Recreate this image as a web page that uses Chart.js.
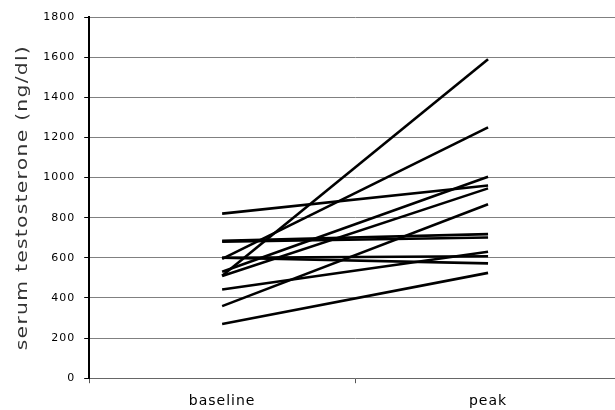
<!DOCTYPE html>
<html lang="en">
<head>
  <meta charset="UTF-8">
  <title>Serum testosterone: baseline vs peak</title>
  <script src="https://cdn.jsdelivr.net/npm/chart.js@4.4.1/dist/chart.umd.min.js"></script>
  <style>
    * { margin: 0; padding: 0; box-sizing: border-box; }
    html, body { width: 615px; height: 410px; overflow: hidden; background: #fff; }
    .chart-box { position: relative; width: 621px; height: 410px; }
  </style>
</head>
<body>
  <div class="chart-box">
    <canvas id="testoChart"></canvas>
  </div>

  <script>
    // categories on the x axis
    const timepoints = ['baseline', 'peak'];

    // one subject per index: value at baseline and at peak (ng/dl)
    const baselineValues = [820, 685, 680, 595, 510, 600, 600, 530, 509, 442, 359, 270];
    const peakValues     = [960, 718, 701, 1250, 1590, 572, 608, 1004, 946, 630, 867, 525];

    // y axis ticks
    const yTicks = [0, 200, 400, 600, 800, 1000, 1200, 1400, 1600, 1800];

    const datasets = baselineValues.map((b, i) => ({
      label: 'subject ' + (i + 1),
      data: [b, peakValues[i]],
      borderColor: '#000',
      borderWidth: 2.6,
      pointRadius: 0,
      tension: 0,
      fill: false
    }));

    // the original lettering is drawn wide: space the ticks a little and
    // stretch the rotated y title along its length
    const spacingPlugin = {
      id: 'spacing',
      beforeDraw(chart) {
        chart.ctx.letterSpacing = '1px';
        const y = chart.scales.y;
        if (y && !y._stretched) {
          const orig = y.drawTitle;
          y.drawTitle = function () {
            const c = this.ctx;
            const cy = (this.top + this.bottom) / 2;
            c.save();
            c.letterSpacing = '1px';
            c.translate(0, cy);
            c.scale(1, 1.27);
            c.translate(0, -cy);
            orig.apply(this, arguments);
            c.restore();
          };
          y._stretched = true;
        }
      }
    };

    new Chart(document.getElementById('testoChart'), {
      type: 'line',
      data: { labels: timepoints, datasets: datasets },
      plugins: [spacingPlugin],
      options: {
        responsive: true,
        maintainAspectRatio: false,
        animation: false,
        layout: { padding: { top: 17, left: 0, right: 0, bottom: -10 } },
        plugins: { legend: { display: false }, tooltip: { enabled: false } },
        scales: {
          x: {
            offset: true,
            grid: {
              offset: true,
              drawOnChartArea: false,
              drawTicks: true,
              tickLength: 5,
              tickColor: '#555'
            },
            border: { color: '#666', width: 1 },
            ticks: {
              color: '#000',
              padding: 10,
              font: { family: 'DejaVu Sans', size: 14 }
            }
          },
          y: {
            min: 0,
            max: 1800,
            afterBuildTicks: axis => { axis.ticks = yTicks.map(v => ({ value: v })); },
            grid: {
              color: '#808080',
              lineWidth: 1,
              tickLength: 5,
              tickColor: '#000'
            },
            border: { color: '#000', width: 2 },
            ticks: {
              color: '#000',
              padding: 9,
              callback: v => String(v),
              font: { family: 'DejaVu Sans', size: 11 }
            },
            title: {
              display: true,
              text: 'serum testosterone (ng/dl)',
              color: '#333',
              padding: { top: 13, bottom: 6 },
              font: { family: 'DejaVu Sans', size: 16 }
            }
          }
        }
      }
    });
  </script>
</body>
</html>
